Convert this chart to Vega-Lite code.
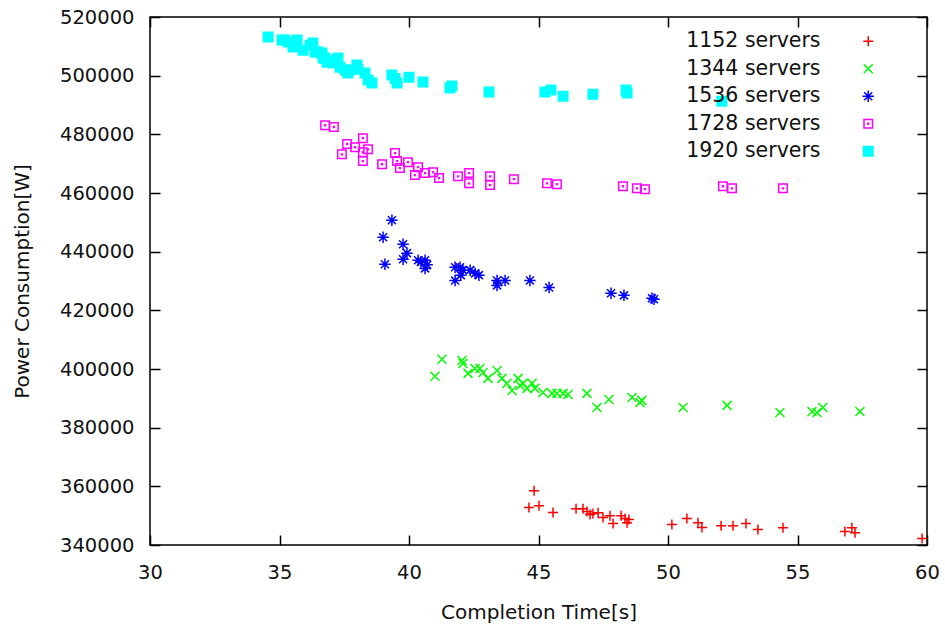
{
  "$schema": "https://vega.github.io/schema/vega-lite/v6.json",
  "width": 777,
  "height": 528,
  "autosize": {"type": "none"},
  "padding": {"left": 150, "top": 17, "right": 18, "bottom": 87},
  "background": "white",
  "config": {
    "view": {"stroke": "#000", "strokeWidth": 1.5},
    "font": "DejaVu Sans",
    "axis": {
      "grid": false,
      "domain": false,
      "tickSize": -10,
      "tickWidth": 1.5,
      "tickColor": "#000",
      "labelFlush": false,
      "labelOverlap": false,
      "labelFont": "DejaVu Sans",
      "labelFontSize": 19.5,
      "labelColor": "#111",
      "titleFont": "DejaVu Sans",
      "titleFontSize": 20,
      "titleFontWeight": "normal",
      "titleColor": "#111"
    }
  },
  "data": {
    "values": [
      {"s": "1152 servers", "x": 44.83, "y": 358500},
      {"s": "1152 servers", "x": 44.63, "y": 352800},
      {"s": "1152 servers", "x": 45.02, "y": 353400},
      {"s": "1152 servers", "x": 45.56, "y": 351100},
      {"s": "1152 servers", "x": 46.45, "y": 352400},
      {"s": "1152 servers", "x": 46.72, "y": 352400},
      {"s": "1152 servers", "x": 46.87, "y": 351400},
      {"s": "1152 servers", "x": 46.99, "y": 350400},
      {"s": "1152 servers", "x": 47.10, "y": 350700},
      {"s": "1152 servers", "x": 47.30, "y": 351000},
      {"s": "1152 servers", "x": 47.49, "y": 349400},
      {"s": "1152 servers", "x": 47.76, "y": 350000},
      {"s": "1152 servers", "x": 47.88, "y": 347300},
      {"s": "1152 servers", "x": 48.19, "y": 350000},
      {"s": "1152 servers", "x": 48.34, "y": 349000},
      {"s": "1152 servers", "x": 48.42, "y": 347600},
      {"s": "1152 servers", "x": 48.49, "y": 348700},
      {"s": "1152 servers", "x": 50.15, "y": 347000},
      {"s": "1152 servers", "x": 50.73, "y": 349000},
      {"s": "1152 servers", "x": 51.16, "y": 347600},
      {"s": "1152 servers", "x": 51.31, "y": 346000},
      {"s": "1152 servers", "x": 52.05, "y": 346600},
      {"s": "1152 servers", "x": 52.51, "y": 346600},
      {"s": "1152 servers", "x": 53.01, "y": 347300},
      {"s": "1152 servers", "x": 53.47, "y": 345300},
      {"s": "1152 servers", "x": 54.44, "y": 345900},
      {"s": "1152 servers", "x": 56.83, "y": 344600},
      {"s": "1152 servers", "x": 57.10, "y": 345900},
      {"s": "1152 servers", "x": 57.22, "y": 344200},
      {"s": "1152 servers", "x": 59.81, "y": 342200},
      {"s": "1344 servers", "x": 41.27, "y": 403300},
      {"s": "1344 servers", "x": 41.00, "y": 397500},
      {"s": "1344 servers", "x": 42.05, "y": 402900},
      {"s": "1344 servers", "x": 42.08, "y": 401900},
      {"s": "1344 servers", "x": 42.28, "y": 398500},
      {"s": "1344 servers", "x": 42.55, "y": 400200},
      {"s": "1344 servers", "x": 42.74, "y": 400200},
      {"s": "1344 servers", "x": 42.86, "y": 398800},
      {"s": "1344 servers", "x": 43.05, "y": 396800},
      {"s": "1344 servers", "x": 43.40, "y": 399500},
      {"s": "1344 servers", "x": 43.59, "y": 396800},
      {"s": "1344 servers", "x": 43.78, "y": 395100},
      {"s": "1344 servers", "x": 43.98, "y": 392700},
      {"s": "1344 servers", "x": 44.21, "y": 396800},
      {"s": "1344 servers", "x": 44.29, "y": 394400},
      {"s": "1344 servers", "x": 44.40, "y": 395100},
      {"s": "1344 servers", "x": 44.56, "y": 393400},
      {"s": "1344 servers", "x": 44.75, "y": 395100},
      {"s": "1344 servers", "x": 44.86, "y": 393400},
      {"s": "1344 servers", "x": 45.17, "y": 392000},
      {"s": "1344 servers", "x": 45.52, "y": 391700},
      {"s": "1344 servers", "x": 45.71, "y": 391700},
      {"s": "1344 servers", "x": 45.95, "y": 391700},
      {"s": "1344 servers", "x": 46.14, "y": 391300},
      {"s": "1344 servers", "x": 46.87, "y": 391700},
      {"s": "1344 servers", "x": 47.26, "y": 386900},
      {"s": "1344 servers", "x": 47.72, "y": 389600},
      {"s": "1344 servers", "x": 48.61, "y": 390300},
      {"s": "1344 servers", "x": 48.92, "y": 388600},
      {"s": "1344 servers", "x": 48.99, "y": 389300},
      {"s": "1344 servers", "x": 50.58, "y": 386900},
      {"s": "1344 servers", "x": 52.28, "y": 387600},
      {"s": "1344 servers", "x": 54.32, "y": 385200},
      {"s": "1344 servers", "x": 55.56, "y": 385500},
      {"s": "1344 servers", "x": 55.75, "y": 385200},
      {"s": "1344 servers", "x": 55.98, "y": 386900},
      {"s": "1344 servers", "x": 57.41, "y": 385500},
      {"s": "1536 servers", "x": 39.34, "y": 450700},
      {"s": "1536 servers", "x": 39.00, "y": 444900},
      {"s": "1536 servers", "x": 39.07, "y": 435700},
      {"s": "1536 servers", "x": 39.77, "y": 442500},
      {"s": "1536 servers", "x": 39.77, "y": 437400},
      {"s": "1536 servers", "x": 39.92, "y": 439500},
      {"s": "1536 servers", "x": 40.35, "y": 437100},
      {"s": "1536 servers", "x": 40.46, "y": 436500},
      {"s": "1536 servers", "x": 40.62, "y": 437100},
      {"s": "1536 servers", "x": 40.70, "y": 435500},
      {"s": "1536 servers", "x": 40.62, "y": 434300},
      {"s": "1536 servers", "x": 41.78, "y": 434700},
      {"s": "1536 servers", "x": 41.78, "y": 430200},
      {"s": "1536 servers", "x": 41.97, "y": 434700},
      {"s": "1536 servers", "x": 42.00, "y": 432000},
      {"s": "1536 servers", "x": 42.08, "y": 433700},
      {"s": "1536 servers", "x": 42.36, "y": 433700},
      {"s": "1536 servers", "x": 42.55, "y": 432600},
      {"s": "1536 servers", "x": 42.70, "y": 432000},
      {"s": "1536 servers", "x": 43.40, "y": 430200},
      {"s": "1536 servers", "x": 43.40, "y": 428500},
      {"s": "1536 servers", "x": 43.71, "y": 430200},
      {"s": "1536 servers", "x": 44.67, "y": 430200},
      {"s": "1536 servers", "x": 45.41, "y": 427800},
      {"s": "1536 servers", "x": 47.80, "y": 425800},
      {"s": "1536 servers", "x": 48.30, "y": 425100},
      {"s": "1536 servers", "x": 49.38, "y": 424100},
      {"s": "1536 servers", "x": 49.46, "y": 423800},
      {"s": "1728 servers", "x": 36.76, "y": 483100},
      {"s": "1728 servers", "x": 37.10, "y": 482500},
      {"s": "1728 servers", "x": 37.61, "y": 476700},
      {"s": "1728 servers", "x": 37.41, "y": 473200},
      {"s": "1728 servers", "x": 38.22, "y": 478700},
      {"s": "1728 servers", "x": 37.92, "y": 475600},
      {"s": "1728 servers", "x": 38.42, "y": 474900},
      {"s": "1728 servers", "x": 38.22, "y": 473900},
      {"s": "1728 servers", "x": 38.22, "y": 470900},
      {"s": "1728 servers", "x": 38.96, "y": 469800},
      {"s": "1728 servers", "x": 39.46, "y": 473600},
      {"s": "1728 servers", "x": 39.54, "y": 470900},
      {"s": "1728 servers", "x": 39.65, "y": 468500},
      {"s": "1728 servers", "x": 39.96, "y": 470500},
      {"s": "1728 servers", "x": 40.35, "y": 468800},
      {"s": "1728 servers", "x": 40.23, "y": 466100},
      {"s": "1728 servers", "x": 40.62, "y": 466800},
      {"s": "1728 servers", "x": 40.93, "y": 467100},
      {"s": "1728 servers", "x": 41.16, "y": 465100},
      {"s": "1728 servers", "x": 41.89, "y": 465700},
      {"s": "1728 servers", "x": 42.32, "y": 466800},
      {"s": "1728 servers", "x": 42.32, "y": 463300},
      {"s": "1728 servers", "x": 43.13, "y": 465700},
      {"s": "1728 servers", "x": 43.13, "y": 462700},
      {"s": "1728 servers", "x": 44.05, "y": 464700},
      {"s": "1728 servers", "x": 45.33, "y": 463300},
      {"s": "1728 servers", "x": 45.71, "y": 463000},
      {"s": "1728 servers", "x": 48.26, "y": 462300},
      {"s": "1728 servers", "x": 48.80, "y": 461600},
      {"s": "1728 servers", "x": 49.11, "y": 461300},
      {"s": "1728 servers", "x": 52.12, "y": 462300},
      {"s": "1728 servers", "x": 52.47, "y": 461600},
      {"s": "1728 servers", "x": 54.44, "y": 461600},
      {"s": "1920 servers", "x": 34.56, "y": 513200},
      {"s": "1920 servers", "x": 35.10, "y": 512200},
      {"s": "1920 servers", "x": 35.21, "y": 512200},
      {"s": "1920 servers", "x": 35.33, "y": 511500},
      {"s": "1920 servers", "x": 35.52, "y": 509800},
      {"s": "1920 servers", "x": 35.68, "y": 512200},
      {"s": "1920 servers", "x": 35.91, "y": 508700},
      {"s": "1920 servers", "x": 36.18, "y": 510400},
      {"s": "1920 servers", "x": 36.29, "y": 511100},
      {"s": "1920 servers", "x": 36.37, "y": 508100},
      {"s": "1920 servers", "x": 36.49, "y": 508100},
      {"s": "1920 servers", "x": 36.64, "y": 507700},
      {"s": "1920 servers", "x": 36.68, "y": 506000},
      {"s": "1920 servers", "x": 36.76, "y": 506000},
      {"s": "1920 servers", "x": 36.83, "y": 504600},
      {"s": "1920 servers", "x": 37.07, "y": 504300},
      {"s": "1920 servers", "x": 37.18, "y": 505300},
      {"s": "1920 servers", "x": 37.26, "y": 506000},
      {"s": "1920 servers", "x": 37.34, "y": 502900},
      {"s": "1920 servers", "x": 37.53, "y": 501900},
      {"s": "1920 servers", "x": 37.64, "y": 500900},
      {"s": "1920 servers", "x": 37.72, "y": 501900},
      {"s": "1920 servers", "x": 37.99, "y": 503600},
      {"s": "1920 servers", "x": 38.03, "y": 502200},
      {"s": "1920 servers", "x": 38.30, "y": 500900},
      {"s": "1920 servers", "x": 38.42, "y": 498500},
      {"s": "1920 servers", "x": 38.57, "y": 497500},
      {"s": "1920 servers", "x": 39.34, "y": 500200},
      {"s": "1920 servers", "x": 39.46, "y": 499000},
      {"s": "1920 servers", "x": 39.54, "y": 497500},
      {"s": "1920 servers", "x": 40.00, "y": 499500},
      {"s": "1920 servers", "x": 40.54, "y": 497800},
      {"s": "1920 servers", "x": 41.58, "y": 495800},
      {"s": "1920 servers", "x": 41.66, "y": 496500},
      {"s": "1920 servers", "x": 43.09, "y": 494400},
      {"s": "1920 servers", "x": 45.25, "y": 494400},
      {"s": "1920 servers", "x": 45.48, "y": 495100},
      {"s": "1920 servers", "x": 45.95, "y": 493000},
      {"s": "1920 servers", "x": 47.10, "y": 493700},
      {"s": "1920 servers", "x": 48.38, "y": 495100},
      {"s": "1920 servers", "x": 48.42, "y": 494100},
      {"s": "1920 servers", "x": 52.08, "y": 491300}
    ]
  },
  "layer": [
    {
      "mark": {"type": "point", "filled": false, "size": 100, "strokeWidth": 1.5, "opacity": 1},
      "encoding": {
        "x": {
          "field": "x", "type": "quantitative",
          "scale": {"domain": [30, 60], "nice": false, "zero": false},
          "axis": {"values": [30, 35, 40, 45, 50, 55, 60], "title": "Completion Time[s]", "labelPadding": 28, "titlePadding": 21}
        },
        "y": {
          "field": "y", "type": "quantitative",
          "scale": {"domain": [340000, 520000], "nice": false, "zero": false},
          "axis": {"values": [340000, 360000, 380000, 400000, 420000, 440000, 460000, 480000, 500000, 520000], "format": "d", "title": "Power Consumption[W]", "labelPadding": 26, "titlePadding": 27}
        },
        "shape": {
          "field": "s", "type": "nominal",
          "scale": {
            "domain": ["1152 servers", "1344 servers", "1536 servers", "1728 servers", "1920 servers"],
            "range": [
              "M-1,0L1,0M0,-1L0,1",
              "M-0.9,-0.9L0.9,0.9M-0.9,0.9L0.9,-0.9",
              "M-1.15,0L1.15,0M0,-1.15L0,1.15M-0.8,-0.8L0.8,0.8M-0.8,0.8L0.8,-0.8",
              "M-0.85,-0.85L0.85,-0.85L0.85,0.85L-0.85,0.85Z M-0.08,-0.08L0.08,-0.08L0.08,0.08L-0.08,0.08Z",
              "M-0.95,-0.95L0.95,-0.95L0.95,0.95L-0.95,0.95Z"
            ]
          },
          "legend": {"orient": "none", "legendX": 520, "legendY": 14, "title": null, "labelFontSize": 20.5, "labelFont": "DejaVu Sans", "labelColor": "#111", "labelAlign": "right", "labelOffset": -58, "labelLimit": 300, "symbolOffset": 188, "symbolSize": 100, "symbolStrokeWidth": 1.5, "rowPadding": 6.5}
        },
        "stroke": {
          "field": "s", "type": "nominal",
          "scale": {
            "domain": ["1152 servers", "1344 servers", "1536 servers", "1728 servers", "1920 servers"],
            "range": ["#ff0000", "#00ff00", "#0000ff", "#ff00ff", "#00ffff"]
          },
          "legend": {"orient": "none", "legendX": 520, "legendY": 14, "title": null, "labelFontSize": 20.5, "labelFont": "DejaVu Sans", "labelColor": "#111", "labelAlign": "right", "labelOffset": -58, "labelLimit": 300, "symbolOffset": 188, "symbolSize": 100, "symbolStrokeWidth": 1.5, "rowPadding": 6.5}
        },
        "fill": {
          "field": "s", "type": "nominal",
          "scale": {
            "domain": ["1152 servers", "1344 servers", "1536 servers", "1728 servers", "1920 servers"],
            "range": ["transparent", "transparent", "transparent", "transparent", "#00ffff"]
          },
          "legend": {"orient": "none", "legendX": 520, "legendY": 14, "title": null, "labelFontSize": 20.5, "labelFont": "DejaVu Sans", "labelColor": "#111", "labelAlign": "right", "labelOffset": -58, "labelLimit": 300, "symbolOffset": 188, "symbolSize": 100, "symbolStrokeWidth": 1.5, "rowPadding": 6.5}
        }
      }
    },
    {
      "mark": {"type": "point", "opacity": 0},
      "encoding": {
        "x": {"field": "x", "type": "quantitative", "axis": {"orient": "top", "values": [30, 35, 40, 45, 50, 55, 60], "labels": false, "title": null}},
        "y": {"field": "y", "type": "quantitative", "axis": {"orient": "right", "values": [340000, 360000, 380000, 400000, 420000, 440000, 460000, 480000, 500000, 520000], "labels": false, "title": null}}
      }
    }
  ],
  "resolve": {"axis": {"x": "independent", "y": "independent"}}
}
